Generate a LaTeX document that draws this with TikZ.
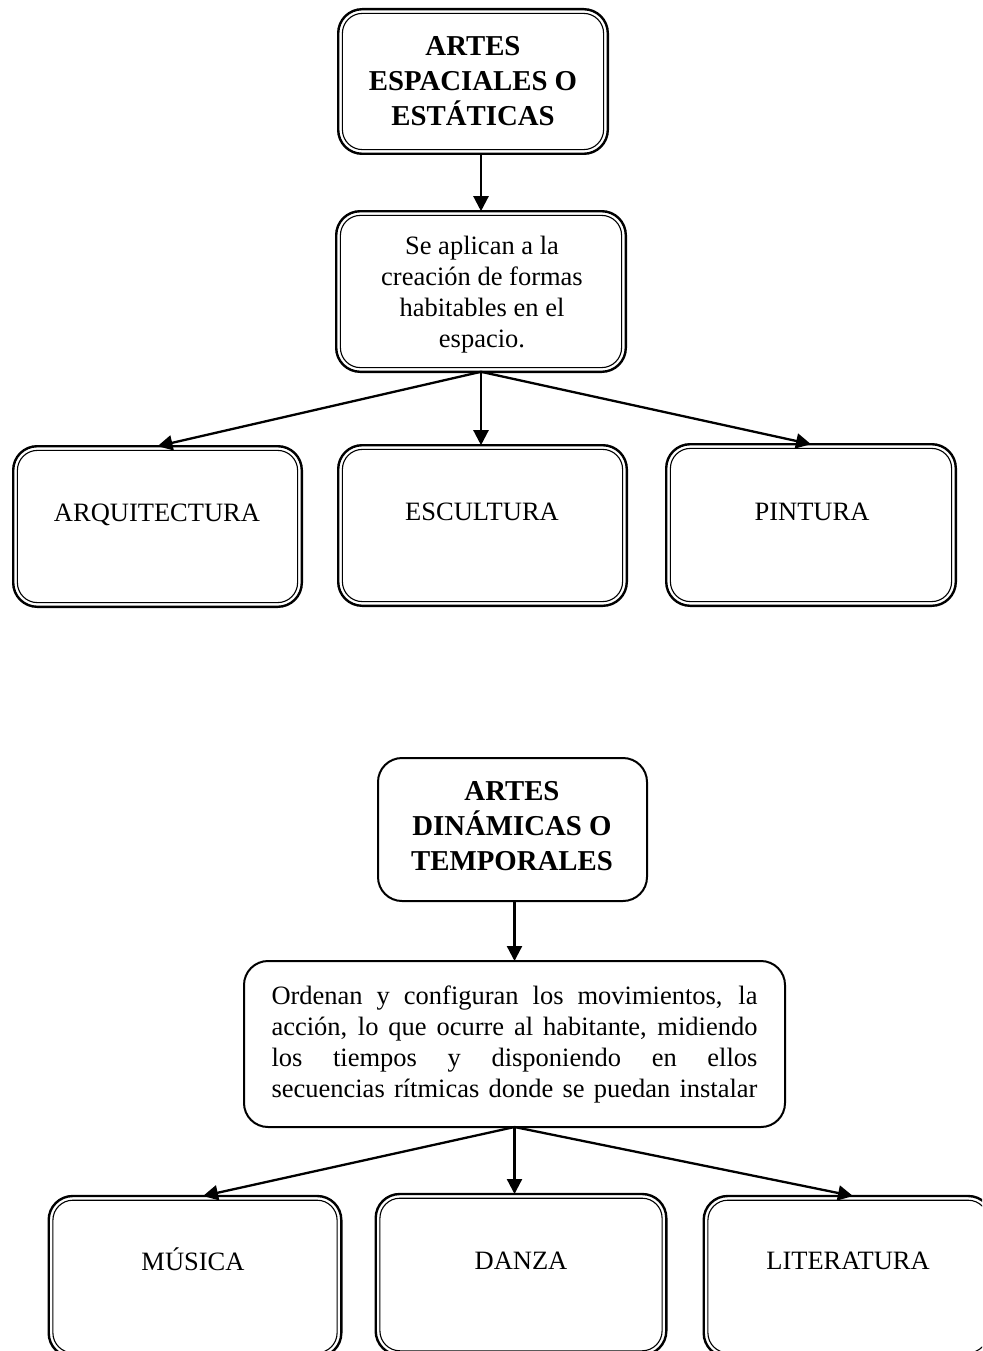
\documentclass[tikz,border=0pt]{standalone}
\usepackage{fontspec}
\setmainfont{Liberation Serif}
\usetikzlibrary{arrows.meta,calc}

% thin inner frame that turns an outer rounded box into a double border
\newcommand\innerframe[1]{%
  \draw[line width=1.1pt, rounded corners=20pt]
    ([shift={(4.2,4.2)}]#1.north west) rectangle ([shift={(-4.2,-4.2)}]#1.south east);}

\begin{document}
\begin{tikzpicture}[x=1pt, y=-1pt,
  reg/.style={font=\fontsize{26.5}{31}\selectfont, align=center, inner sep=0pt},
  lab/.style={reg, anchor=base},
  ttl/.style={font=\fontsize{28.8}{35}\selectfont\bfseries, align=center, inner sep=0pt},
  dbox/.style={draw, line width=2.4pt, rounded corners=24pt, inner sep=0pt, outer sep=0pt},
  sbox/.style={draw, line width=2pt, rounded corners=24pt, inner sep=0pt, outer sep=0pt},
  arr/.style={line width=2.3pt, -{Triangle[length=15pt,width=15pt]}}]

\useasboundingbox (0,0) rectangle (982,1351);
\clip (0,0) rectangle (982,1351);

% ---------- spatial arts ----------
\node[dbox, ttl, minimum width=269.6pt, minimum height=144.6pt] (b1) at (473,81.5)
  {ARTES\\ESPACIALES O\\ESTÁTICAS};
\innerframe{b1}

\node[dbox, reg, minimum width=289.6pt, minimum height=160.6pt] (b2) at (481,291.5) {};
\innerframe{b2}
\node[reg] (b2t) at (482,294.5) {Se aplican a la\\creación de formas\\habitables en el\\espacio.};

\node[dbox, minimum width=288.6pt, minimum height=160.6pt] (arq) at (157.5,526.5) {};
\innerframe{arq}
\node[lab] (arqt) at (157,521) {ARQUITECTURA};

\node[dbox, minimum width=288.6pt, minimum height=160.6pt] (esc) at (482.5,525.5) {};
\innerframe{esc}
\node[lab] (esct) at (482,520) {ESCULTURA};

\node[dbox, minimum width=289.6pt, minimum height=161.6pt] (pin) at (811,525) {};
\innerframe{pin}
\node[lab] (pint) at (812,520) {PINTURA};

\draw[arr] (b1.south -| b2.north) -- (b2.north);
\draw[arr] (b2.south) -- (arq.north);
\draw[arr] (b2.south) -- (b2.south |- esc.north);
\draw[arr] (b2.south) -- (pin.north);

% ---------- temporal arts ----------
\node[sbox, minimum width=269pt, minimum height=143pt] (dyn) at (512.5,829.5) {};
\node[ttl] (dynt) at (512,826) {ARTES\\DINÁMICAS O\\TEMPORALES};

\node[sbox, reg, minimum width=541pt, minimum height=166pt] (ord) at (514.5,1044)
  {\makebox[486pt][s]{Ordenan y configuran los movimientos, la}\\
   \makebox[486pt][s]{acción, lo que ocurre al habitante, midiendo}\\
   \makebox[486pt][s]{los tiempos y disponiendo en ellos}\\
   \makebox[486pt][s]{secuencias rítmicas donde se puedan instalar}};

\node[dbox, minimum width=292.6pt, minimum height=161pt] (mus) at (195,1276.5) {};
\innerframe{mus}
\node[lab] (must) at (193,1270) {MÚSICA};

\node[dbox, minimum width=290.6pt, minimum height=161pt] (dan) at (521,1274.5) {};
\innerframe{dan}
\node[lab] (dant) at (521,1269) {DANZA};

\node[dbox, minimum width=288.6pt, minimum height=161pt] (lit) at (848,1276.5) {};
\innerframe{lit}
\node[lab] (litt) at (848,1269) {LITERATURA};

\draw[arr] (dyn.south -| ord.north) -- (ord.north);
\draw[arr] (ord.south) -- ([xshift=8pt]mus.north);
\draw[arr] (ord.south) -- (ord.south |- dan.north);
\draw[arr] (ord.south) -- ([xshift=5pt]lit.north);
\end{tikzpicture}
\end{document}
